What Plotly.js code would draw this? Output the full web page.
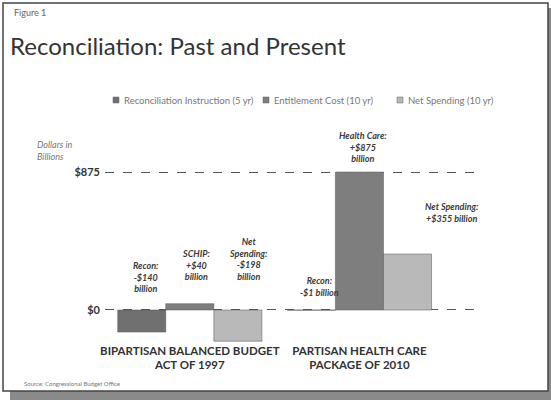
<!DOCTYPE html>
<html>
<head>
<meta charset="utf-8">
<script src="https://cdn.plot.ly/plotly-3.0.1.min.js"></script>
<style>html,body{margin:0;padding:0;background:#fff;}#chart{width:551px;height:400px;}</style>
</head>
<body>
<div id="chart"></div>
<script>
// ---- data ----
const categories = ["BIPARTISAN BALANCED BUDGET<br>ACT OF 1997", "PARTISAN HEALTH CARE<br>PACKAGE OF 2010"];
const seriesNames = ["Reconciliation Instruction (5 yr)", "Entitlement Cost (10 yr)", "Net Spending (10 yr)"];
const reconValues = [-140, -1];
const entitlementValues = [40, 875];
const netSpendingValues = [-198, 355];
const reconLabels = ["Recon:<br>-$140<br>billion", "Recon:<br>-$1 billion"];
const entitlementLabels = ["SCHIP:<br>+$40<br>billion", "Health Care:<br>+$875<br>billion"];
const netLabels = ["Net<br>Spending:<br>-$198<br>billion", "Net Spending:<br>+$355 billion"];
const tickValues = [0, 875];
const tickLabels = ["<b>$0</b>", "<b>$875</b>"];

const colors = ["#707070", "#7e7e7e", "#b9b9b9"];
const font = "Lato, 'Open Sans', sans-serif";

// layout geometry (pixels)
const M = {l: 105, r: 71, t: 137, b: 55};
const W = 551, H = 400;
const PW = W - M.l - M.r, PH = H - M.t - M.b;
const px = x => (x - M.l) / PW;           // pixel -> paper x
const py = y => (H - M.b - y) / PH;       // pixel -> paper y

const seriesValues = [reconValues, entitlementValues, netSpendingValues];
const seriesLabels = [reconLabels, entitlementLabels, netLabels];

const traces = seriesValues.map((vals, i) => ({
  type: "bar",
  name: seriesNames[i],
  x: categories,
  y: vals,
  marker: {color: colors[i], line: {color: "#555", width: 0.5}},
  hoverinfo: "skip",
  showlegend: false
}));

// label tweaks (pixel offsets from the top of each bar / zero line)
const labelShift = [
  [{dx: 4, dy: 14}, {dx: 8, dy: 10}],
  [{dx: 6, dy: 20}, {dx: 4, dy: 6}],
  [{dx: 10, dy: 26}, {dx: 44, dy: 28}]
];

const annotations = [];
const shapes = [];
seriesValues.forEach((vals, s) => {
  vals.forEach((v, c) => {
    annotations.push({
      x: c + (s - 1) * 0.2833, xref: "x", y: Math.max(v, 0), yref: "y",
      text: seriesLabels[s][c], showarrow: false,
      xanchor: "center", yanchor: "bottom",
      xshift: labelShift[s][c].dx, yshift: labelShift[s][c].dy,
      font: {family: font, size: 9, color: "#3a3a3a", style: "italic", weight: "bold"}
    });
  });
});

// custom legend (compact squares like the original)
const legendX = [113, 263, 397];
const legendY = 100;
seriesNames.forEach((name, i) => {
  shapes.push({type: "rect", xref: "paper", yref: "paper",
    x0: px(legendX[i]), x1: px(legendX[i] + 6), y0: py(legendY + 3), y1: py(legendY - 3),
    fillcolor: colors[i], line: {color: "#666", width: 0.5}});
  annotations.push({xref: "paper", yref: "paper", x: px(legendX[i] + 9), y: py(legendY),
    xanchor: "left", yanchor: "middle", text: name, showarrow: false,
    font: {family: font, size: 9.5, color: "#777"}});
});

annotations.push(
  {xref: "paper", yref: "paper", x: px(12), y: py(13), xanchor: "left", yanchor: "middle",
   text: "Figure 1", showarrow: false, font: {family: font, size: 9, color: "#666"}},
  {xref: "paper", yref: "paper", x: px(35), y: py(150), xanchor: "left", yanchor: "middle", align: "left",
   text: "Dollars in<br>Billions", showarrow: false, font: {family: font, size: 9, color: "#777", style: "italic"}},
  {xref: "paper", yref: "paper", x: px(22), y: py(383), xanchor: "left", yanchor: "middle",
   text: "Source: Congressional Budget Office", showarrow: false, font: {family: font, size: 6, color: "#777"}}
);

shapes.push(
  {type: "rect", xref: "paper", yref: "paper", x0: px(10), x1: px(551), y0: py(400), y1: py(391),
   fillcolor: "#8a8a8a", line: {width: 0}, layer: "below"},
  {type: "rect", xref: "paper", yref: "paper", x0: px(548), x1: px(551), y0: py(400), y1: py(8),
   fillcolor: "#8a8a8a", line: {width: 0}, layer: "below"},
  {type: "rect", xref: "paper", yref: "paper", x0: px(3), x1: px(548), y0: py(391), y1: py(3),
   fillcolor: "rgba(0,0,0,0)", line: {color: "#444", width: 1.5}, layer: "below"}
);

const layout = {
  width: W, height: H,
  margin: {l: M.l, r: M.r, t: M.t, b: M.b, pad: 0},
  paper_bgcolor: "#fff", plot_bgcolor: "rgba(0,0,0,0)",
  font: {family: font},
  title: {text: "Reconciliation: Past and Present", x: 10/551, xanchor: "left", y: 1 - 47/400, yanchor: "middle",
          font: {family: font, size: 24, color: "#333"}},
  barmode: "group", bargap: 0.15, bargroupgap: 0,
  showlegend: false,
  xaxis: {type: "category", showgrid: false, zeroline: false, showline: false, ticks: "",
          tickfont: {family: font, size: 11.5, color: "#333", weight: "bold"}, ticklabelstandoff: -3, fixedrange: true},
  yaxis: {range: [-222, 1097], tickvals: tickValues, ticktext: tickLabels, showgrid: true,
          gridcolor: "#555", griddash: "dash", gridwidth: 1, zeroline: false, showline: false,
          tickfont: {family: font, size: 11, color: "#333"}, ticklabelstandoff: 4, fixedrange: true},
  annotations: annotations,
  shapes: shapes
};

Plotly.newPlot("chart", traces, layout, {displayModeBar: false, staticPlot: true});
</script>
</body>
</html>
